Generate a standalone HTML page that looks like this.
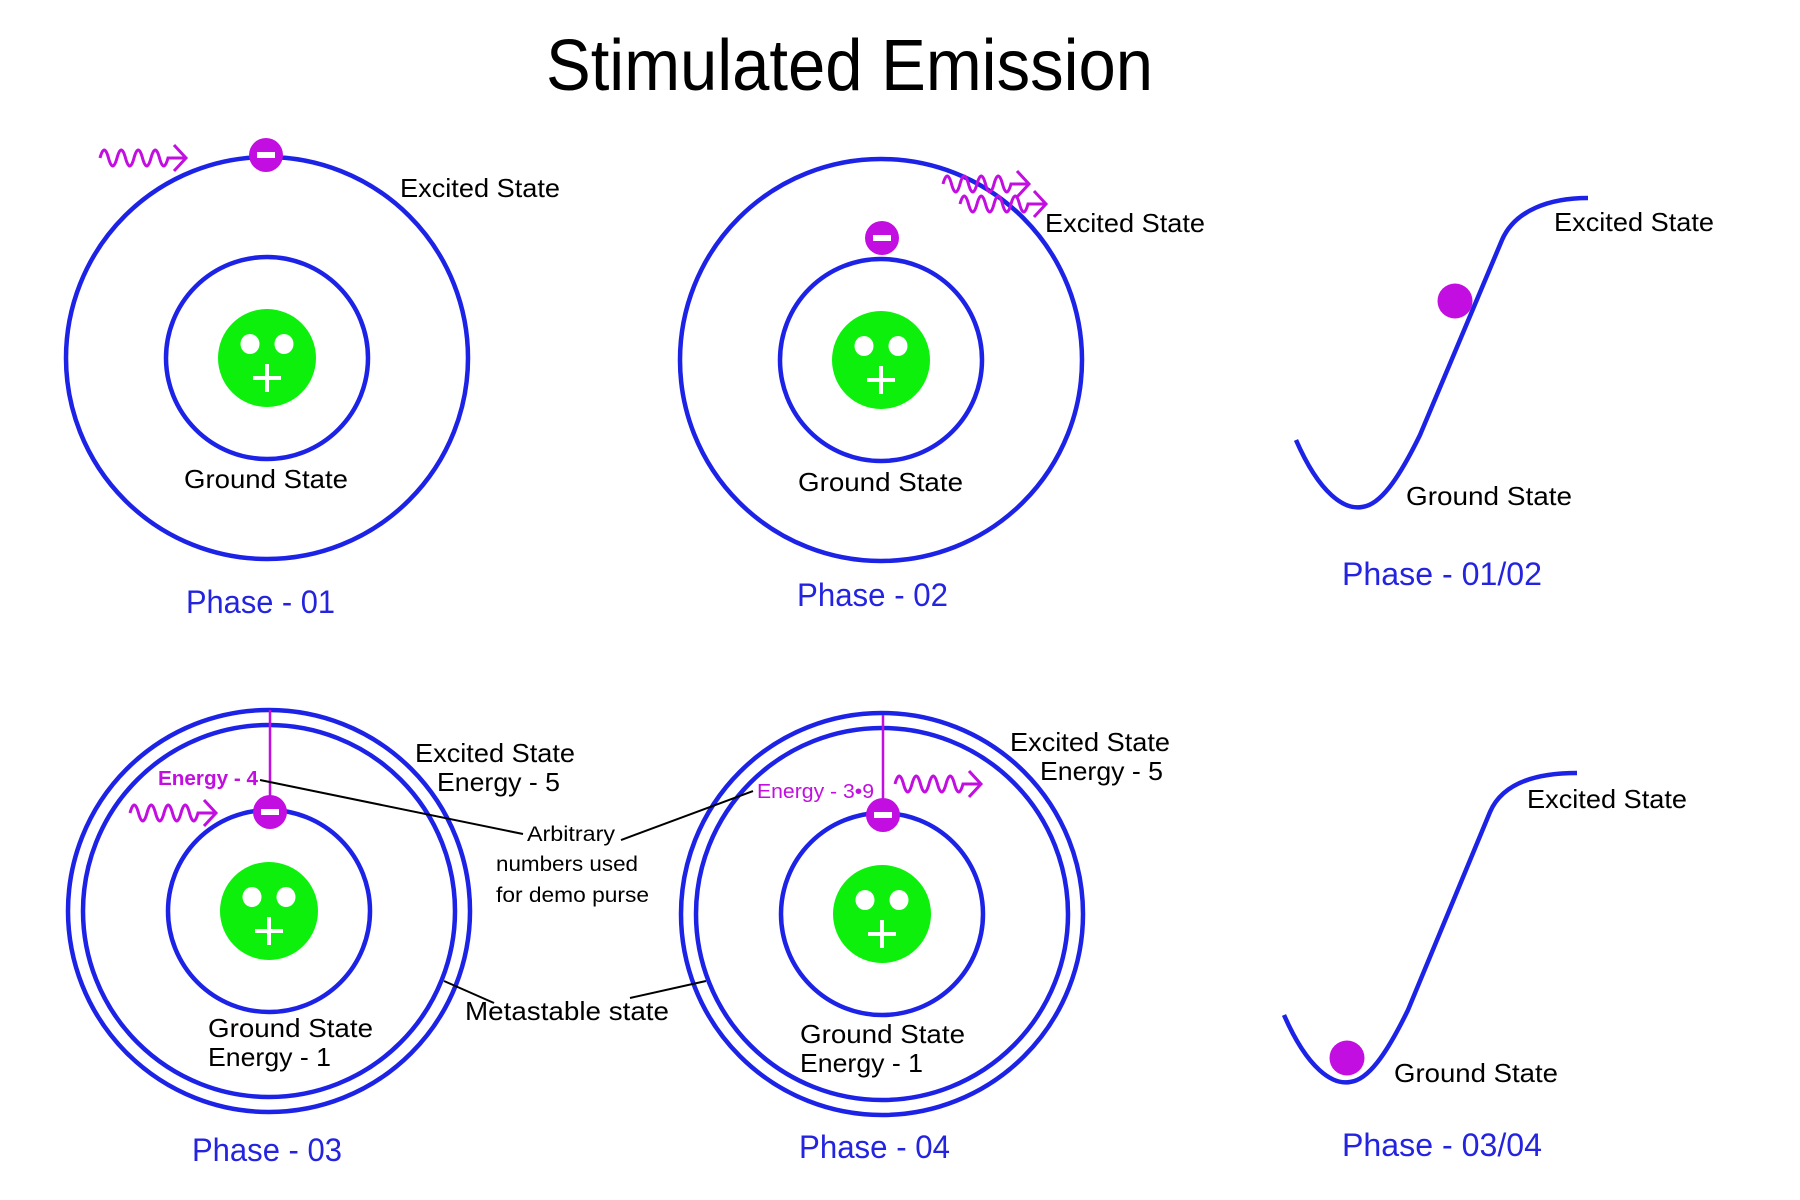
<!DOCTYPE html>
<html><head><meta charset="utf-8"><style>
html,body{margin:0;padding:0;background:#fff;}
svg{display:block;}
text{font-family:"Liberation Sans",sans-serif;}
</style></head><body>
<svg width="1800" height="1200" viewBox="0 0 1800 1200" xmlns="http://www.w3.org/2000/svg">
<defs>
  <g id="nuc">
    <circle r="49" fill="#0cf00c"/>
    <ellipse cx="-17" cy="-14" rx="9.5" ry="10" fill="#fff"/>
    <ellipse cx="17" cy="-14" rx="9.5" ry="10" fill="#fff"/>
    <path d="M-14 20 H14 M0 6 V34" stroke="#fff" stroke-width="4"/>
  </g>
  <g id="el">
    <circle r="17" fill="#c20ee0"/>
    <rect x="-9" y="-3" width="18" height="6" fill="#fff"/>
  </g>
  <path id="wave" d="M0 0 q4.25 -16 8.5 0 t8.5 0 t8.5 0 t8.5 0 t8.5 0 t8.5 0 t8.5 0 t8.5 0 l18 0 m-12 -13 l12 13 l-12 13" fill="none" stroke="#c20ee0" stroke-width="3"/>
</defs>

<text x="546" y="90" font-size="72" textLength="607" lengthAdjust="spacingAndGlyphs">Stimulated Emission</text>

<g fill="none" stroke="#1c22e6" stroke-width="4.5">
  <!-- phase 01 -->
  <circle cx="267" cy="358" r="201"/>
  <circle cx="267" cy="358" r="101"/>
  <!-- phase 02 -->
  <circle cx="881" cy="360" r="201"/>
  <circle cx="881" cy="360" r="101"/>
  <!-- phase 03 -->
  <circle cx="269" cy="911" r="201"/>
  <circle cx="269" cy="911" r="186"/>
  <circle cx="269" cy="911" r="101"/>
  <!-- phase 04 -->
  <circle cx="882" cy="914" r="201"/>
  <circle cx="882" cy="914" r="186"/>
  <circle cx="882" cy="914" r="101"/>
  <!-- curves -->
  <path d="M1296 440 C1320 495 1345 510 1362 507 C1380 505 1398 480 1420 435 L1502 240 C1515 210 1550 198 1588 198"/>
  <path d="M1284 1015 C1308 1070 1333 1085 1350 1082 C1368 1080 1386 1055 1408 1010 L1490 812 C1503 782 1538 773 1577 773"/>
</g>

<use href="#nuc" x="267" y="358"/>
<use href="#nuc" x="881" y="360"/>
<use href="#nuc" x="269" y="911"/>
<use href="#nuc" x="882" y="914"/>

<line x1="270" y1="710" x2="270" y2="800" stroke="#c20ee0" stroke-width="2.5"/>
<line x1="883" y1="715" x2="883" y2="800" stroke="#c20ee0" stroke-width="2.5"/>

<use href="#el" x="266" y="155"/>
<use href="#el" x="882" y="238"/>
<use href="#el" x="270" y="812"/>
<use href="#el" x="883" y="815"/>
<circle cx="1455" cy="301" r="17.5" fill="#c20ee0"/>
<circle cx="1347" cy="1058" r="17.5" fill="#c20ee0"/>

<use href="#wave" x="100" y="158"/>
<use href="#wave" x="943" y="184"/>
<use href="#wave" x="960" y="204"/>
<use href="#wave" x="130" y="813"/>
<use href="#wave" x="895" y="784"/>

<g stroke="#000" stroke-width="2">
  <line x1="260" y1="780" x2="523" y2="834"/>
  <line x1="621" y1="840" x2="753" y2="791"/>
  <line x1="444" y1="981" x2="494" y2="1003"/>
  <line x1="630" y1="998" x2="706" y2="981"/>
</g>

<g font-size="26" fill="#000">
  <text x="400" y="197" textLength="160" lengthAdjust="spacingAndGlyphs">Excited State</text>
  <text x="184" y="488" textLength="164" lengthAdjust="spacingAndGlyphs">Ground State</text>
  <text x="1045" y="232" textLength="160" lengthAdjust="spacingAndGlyphs">Excited State</text>
  <text x="798" y="491" textLength="165" lengthAdjust="spacingAndGlyphs">Ground State</text>
  <text x="1554" y="231" textLength="160" lengthAdjust="spacingAndGlyphs">Excited State</text>
  <text x="1406" y="505" textLength="166" lengthAdjust="spacingAndGlyphs">Ground State</text>
  <text x="415" y="762" textLength="160" lengthAdjust="spacingAndGlyphs">Excited State</text>
  <text x="437" y="791" textLength="123" lengthAdjust="spacingAndGlyphs">Energy - 5</text>
  <text x="1010" y="751" textLength="160" lengthAdjust="spacingAndGlyphs">Excited State</text>
  <text x="1040" y="780" textLength="123" lengthAdjust="spacingAndGlyphs">Energy - 5</text>
  <text x="465" y="1020" textLength="204" lengthAdjust="spacingAndGlyphs">Metastable state</text>
  <text x="208" y="1037" textLength="165" lengthAdjust="spacingAndGlyphs">Ground State</text>
  <text x="208" y="1066" textLength="123" lengthAdjust="spacingAndGlyphs">Energy - 1</text>
  <text x="800" y="1043" textLength="165" lengthAdjust="spacingAndGlyphs">Ground State</text>
  <text x="800" y="1072" textLength="123" lengthAdjust="spacingAndGlyphs">Energy - 1</text>
  <text x="1527" y="808" textLength="160" lengthAdjust="spacingAndGlyphs">Excited State</text>
  <text x="1394" y="1082" textLength="164" lengthAdjust="spacingAndGlyphs">Ground State</text>
</g>
<g font-size="21" fill="#000">
  <text x="527" y="841" textLength="88" lengthAdjust="spacingAndGlyphs">Arbitrary</text>
  <text x="496" y="871" textLength="142" lengthAdjust="spacingAndGlyphs">numbers used</text>
  <text x="496" y="902" textLength="153" lengthAdjust="spacingAndGlyphs">for demo purse</text>
</g>
<text x="158" y="785" font-size="20" font-weight="bold" fill="#c20ee0" textLength="100" lengthAdjust="spacingAndGlyphs">Energy - 4</text>
<text x="757" y="798" font-size="20" fill="#c20ee0" textLength="117" lengthAdjust="spacingAndGlyphs">Energy - 3•9</text>

<g font-size="32" fill="#2424e0">
  <text x="186" y="613" textLength="149" lengthAdjust="spacingAndGlyphs">Phase - 01</text>
  <text x="797" y="606" textLength="151" lengthAdjust="spacingAndGlyphs">Phase - 02</text>
  <text x="1342" y="585" textLength="200" lengthAdjust="spacingAndGlyphs">Phase - 01/02</text>
  <text x="192" y="1161" textLength="150" lengthAdjust="spacingAndGlyphs">Phase - 03</text>
  <text x="799" y="1158" textLength="151" lengthAdjust="spacingAndGlyphs">Phase - 04</text>
  <text x="1342" y="1156" textLength="200" lengthAdjust="spacingAndGlyphs">Phase - 03/04</text>
</g>
</svg>
</body></html>
